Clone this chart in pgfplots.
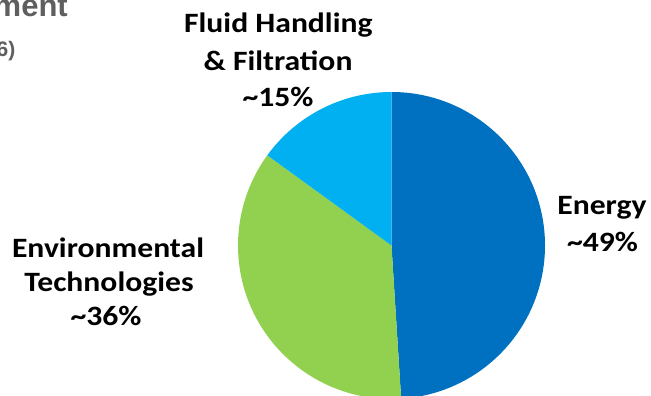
\documentclass[border=0pt]{standalone}
\usepackage{pgfplots}
\pgfplotsset{compat=1.18}
\usepackage{pgfplotstable}
\usepackage{fontspec}
\setmainfont{Carlito}[FakeStretch=1.13]
\newfontfamily\titlefont{Liberation Sans}

\definecolor{energy}{HTML}{0070C0}
\definecolor{environ}{HTML}{92D050}
\definecolor{fluid}{HTML}{00B0F0}
\definecolor{titlegray}{HTML}{5F5F5F}

% Revenue share by segment (percent), clockwise from 12 o'clock
\pgfplotstableread{
segment share
Energy 49
Environmental 36
Fluid 15
}\segments

\pgfplotstablegetelem{0}{share}\of\segments \let\shareA\pgfplotsretval
\pgfplotstablegetelem{1}{share}\of\segments \let\shareB\pgfplotsretval
\pgfplotstablegetelem{2}{share}\of\segments \let\shareC\pgfplotsretval
\pgfmathsetmacro{\angA}{90}
\pgfmathsetmacro{\angB}{\angA-3.6*\shareA}
\pgfmathsetmacro{\angC}{\angB-3.6*\shareB}
\pgfmathsetmacro{\angD}{\angC-3.6*\shareC}

% pie radius and centre (axis units are pt)
\newcommand{\pieR}{153.5}
\newcommand{\pieX}{391.5}
\newcommand{\pieY}{150.5}

\begin{document}
\begin{tikzpicture}
\begin{axis}[
  x=1pt, y=1pt,
  xmin=0, xmax=651, ymin=0, ymax=396,
  hide axis, clip=true, clip bounding box=upper bound,
]
  \path (axis cs:0,0) rectangle (axis cs:651,396);

  \fill[energy]  (axis cs:\pieX,\pieY) -- ++(\angA:\pieR pt)
     arc[start angle=\angA, end angle=\angB, radius=\pieR pt] -- cycle;
  \fill[environ] (axis cs:\pieX,\pieY) -- ++(\angB:\pieR pt)
     arc[start angle=\angB, end angle=\angC, radius=\pieR pt] -- cycle;
  \fill[fluid]   (axis cs:\pieX,\pieY) -- ++(\angC:\pieR pt)
     arc[start angle=\angC, end angle=\angD, radius=\pieR pt] -- cycle;

  % title, running off the left edge
  \node[anchor=base east, inner sep=0, text=titlegray,
        font=\titlefont\bfseries\fontsize{31}{31}\selectfont]
        at (axis cs:68,379.3) {Segment};
  \node[anchor=base east, inner sep=0, text=titlegray,
        font=\titlefont\bfseries\fontsize{21}{21}\selectfont]
        at (axis cs:15.5,339) {(2016)};

  % slice labels
  \tikzset{lab/.style={anchor=base, inner sep=0,
    font=\bfseries\fontsize{28}{28}\selectfont}}
  \node[lab] at (axis cs:278.3,363.5) {Fluid Handling};
  \node[lab] at (axis cs:278,325.5) {\& Filtration};
  \node[lab] at (axis cs:278,289) {\textasciitilde15\%};

  \node[lab] at (axis cs:108,138.7) {Environmental};
  \node[lab] at (axis cs:109,104.3) {Technologies};
  \node[lab] at (axis cs:106,70.3) {\textasciitilde36\%};

  \node[lab] at (axis cs:602,181) {Energy};
  \node[lab] at (axis cs:602.5,144.3) {\textasciitilde49\%};
\end{axis}
\end{tikzpicture}
\end{document}
